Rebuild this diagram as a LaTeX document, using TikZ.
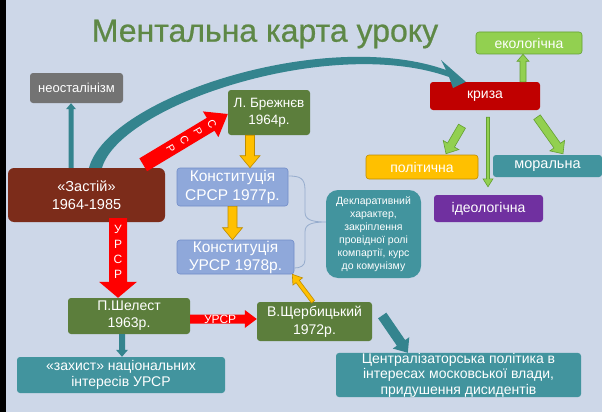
\documentclass[tikz,border=0pt]{standalone}
\usepackage{fontspec}
\setmainfont{Liberation Sans}
\newfontfamily\titlefont[FakeBold=0.7]{Liberation Sans}
\usetikzlibrary{calc,arrows.meta}
\definecolor{bg}{RGB}{205,215,232}
\definecolor{titlegreen}{RGB}{94,136,70}
\definecolor{olivebox}{RGB}{92,126,60}
\definecolor{brownbox}{RGB}{124,44,26}
\definecolor{graybox}{RGB}{115,115,115}
\definecolor{bluebox}{RGB}{143,168,218}
\definecolor{blueline}{RGB}{112,140,200}
\definecolor{tealbox}{RGB}{66,148,158}
\definecolor{tealarrow}{RGB}{52,132,142}
\definecolor{redbox}{RGB}{192,0,0}
\definecolor{lgreen}{RGB}{146,208,80}
\definecolor{dgreen}{RGB}{100,160,50}
\definecolor{yel}{RGB}{255,192,0}
\definecolor{dyel}{RGB}{190,140,0}
\definecolor{purp}{RGB}{112,48,160}
\definecolor{bracecol}{RGB}{150,172,205}
\newcommand\fs[2]{\fontsize{#1}{#2}\selectfont}
% block arrow: style, from, to, half shaft, half head, head length
\newcommand{\blockarr}[6]{%
  \coordinate (ba-h) at ($(#3)!#6!(#2)$);
  \path[#1] ($(#2)!#4!90:(#3)$) -- ($(ba-h)!#4!90:(#3)$) -- ($(ba-h)!#5!90:(#3)$) -- (#3)
    -- ($(ba-h)!#5!-90:(#3)$) -- ($(ba-h)!#4!-90:(#3)$) -- ($(#2)!#4!-90:(#3)$) -- cycle;}
\begin{document}
\begin{tikzpicture}[x=1pt,y=-1pt,
  box/.style={rounded corners=3pt, inner sep=0pt, text=white, align=center, font=\fs{14}{17}},
  redarr/.style={fill=red},
  yelarr/.style={fill=yel, draw=dyel, line width=0.6pt},
  grarr/.style={fill=lgreen, draw=dgreen, line width=0.6pt},
  tarr/.style={fill=tealarrow},
  letter/.style={text=white, inner sep=0pt, font=\fs{11}{13}}]
\useasboundingbox (0,0) rectangle (602,412);
\fill[bg] (0,0) rectangle (602,412);
\fill[black] (0,0) rectangle (6,412);

\node[text=titlegreen, font=\titlefont\fs{32}{36}, inner sep=0pt] (title) at (265,34) {Ментальна карта уроку};

% nodes
\node[box, fill=lgreen, draw=dgreen, line width=0.6pt, minimum width=106pt, minimum height=22pt] (ekol) at (529,43) {екологічна};
\node[box, fill=redbox, minimum width=110pt, minimum height=28pt] (kryza) at (485,96) {криза};
\node[box, fill=yel, draw=dyel, line width=0.6pt, minimum width=112pt, minimum height=24pt] (polit) at (422,167) {політична};
\node[box, fill=tealbox, minimum width=109pt, minimum height=22pt, font=\fs{14.5}{17}] (moral) at (547.5,166) {моральна};
\node[box, fill=purp, minimum width=109pt, minimum height=27pt] (ideol) at (488.5,208.5) {ідеологічна};
\node[box, fill=graybox, minimum width=93pt, minimum height=30pt, font=\fs{13}{16}] (neo) at (76.5,88) {неосталінізм};
\node[box, fill=olivebox, minimum width=82pt, minimum height=45pt, font=\fs{13.5}{17}] (brez) at (269,112.5) {Л. Брежнєв\\1964р.};
\node[box, fill=brownbox, rounded corners=6pt, minimum width=157pt, minimum height=54pt, font=\fs{14.5}{18}] (zast) at (86.5,195) {«Застій»\\1964-1985};
\node[box, fill=bluebox, draw=blueline, line width=0.6pt, minimum width=111pt, minimum height=38pt, font=\fs{15.5}{19}] (ksrsr) at (232.5,187) {Конституція\\СРСР 1977р.};
\node[box, fill=bluebox, draw=blueline, line width=0.6pt, minimum width=117pt, minimum height=34pt, font=\fs{15.5}{18}] (kursr) at (235.5,257) {Конституція\\УРСР 1978р.};
\node[box, fill=tealbox, rounded corners=12pt, minimum width=95pt, minimum height=88pt, font=\fs{10.5}{13}] (dekl) at (373.5,234) {Декларативний\\характер,\\закріплення\\провідної ролі\\компартії, курс\\до комунізму};
\node[box, fill=olivebox, minimum width=122pt, minimum height=36pt, font=\fs{14}{17}] (shel) at (129,316) {П.Шелест\\1963р.};
\node[box, fill=olivebox, minimum width=115pt, minimum height=39pt, font=\fs{14}{18}] (shch) at (314.5,321.5) {В.Щербицький\\1972р.};
\node[box, fill=tealbox, minimum width=208pt, minimum height=36pt, font=\fs{14}{16}] (zahyst) at (121,375) {«захист» національних\\інтересів УРСР};
\node[box, fill=tealbox, minimum width=245pt, minimum height=44pt, font=\fs{14}{15.5}] (centr) at (458.5,375) {Централізаторська політика в\\інтересах московської влади,\\придушення дисидентів};

% curved teal arrow Застій -> криза
\coordinate (ca) at ($(zast.north)+(2.5,0)$);
\coordinate (cb) at ($(zast.north)+(15.5,0)$);
\coordinate (ctip) at ($(kryza.north west)+(36,0)$);
\fill[tealarrow] (ca) .. controls (108,97) and (326,27) .. (446,70)
  -- (441,60) -- (ctip) -- (453,88) -- (449,77)
  .. controls (332,35) and (121,104) .. (cb) -- cycle;

% red arrow СРСР
\coordinate (s1) at ($(zast.north east)+(-22,-3)$);
\coordinate (s2) at ($(brez.west)+(0,1.5)$);
\blockarr{redarr}{s1}{s2}{7.5pt}{15pt}{20pt}
\foreach \d/\l in {80/С,64/Р,48/С,32/Р}
  \node[letter, rotate=-60] at ($(s1)!\d pt!(s2)$) {\l};

% red arrow УРСР vertical
\coordinate (u1) at ($(zast.south)+(31.5,-4)$);
\coordinate (u2) at ($(shel.north)+(-11,0)$);
\blockarr{redarr}{u1}{u2}{9pt}{19pt}{16pt}
\foreach \y/\l in {229/У,244/Р,259/С,274/Р}
  \node[letter, font=\fs{12}{14}] at (118,\y) {\l};

% red arrow УРСР horizontal
\coordinate (h1) at ($(shel.east)+(0,3)$);
\coordinate (h2) at ($(shch.west)+(0,-2.5)$);
\blockarr{redarr}{h1}{h2}{4.5pt}{9pt}{12pt}
\node[letter, font=\fs{12}{14}] at ($(h1)!0.45!(h2)$) {УРСР};

% yellow arrows
\coordinate (y1) at ($(brez.south)+(-19,0)$);
\coordinate (y2) at ($(ksrsr.north)+(17.5,0)$);
\blockarr{yelarr}{y1}{y2}{4.5pt}{10pt}{12pt}
\coordinate (y3) at (ksrsr.south);
\coordinate (y4) at ($(kursr.north)+(-3,0)$);
\blockarr{yelarr}{y3}{y4}{4.5pt}{10pt}{12pt}
\coordinate (y5) at ($(shch.north)+(-1.5,0)$);
\coordinate (y6) at ($(kursr.south east)+(-2,0)$);
\blockarr{yelarr}{y5}{y6}{2pt}{6pt}{9pt}

% teal arrows
\coordinate (t1) at ($(shch.east)+(10,-6)$);
\coordinate (t2) at ($(centr.north west)+(72,0)$);
\blockarr{tarr}{t1}{t2}{5pt}{10pt}{12pt}
\coordinate (t3) at ($(shel.south)+(-7,0)$);
\coordinate (t4) at ($(zahyst.north)+(1,0)$);
\blockarr{tarr}{t3}{t4}{3pt}{6pt}{7pt}
\coordinate (n1) at ($(zast.north)+(-15.5,0)$);
\coordinate (n2) at ($(neo.south)+(-5.5,0)$);
\blockarr{tarr}{n1}{n2}{2.5pt}{5pt}{6pt}

% green arrows from криза
\coordinate (e1) at ($(kryza.north)+(38,0)$);
\coordinate (e2) at ($(ekol.south)+(-6,0)$);
\blockarr{grarr}{e1}{e2}{3pt}{6pt}{7pt}
\coordinate (p1) at ($(kryza.south)+(-23,16)$);
\coordinate (p2) at ($(polit.north)+(24,-1)$);
\blockarr{grarr}{p1}{p2}{4pt}{9pt}{10pt}
\coordinate (i1) at ($(kryza.south)+(3,7)$);
\coordinate (i2) at ($(ideol.north)+(-0.5,-8)$);
\blockarr{grarr}{i1}{i2}{1.5pt}{5pt}{8pt}
\coordinate (m1) at ($(kryza.south)+(52,7)$);
\coordinate (m2) at ($(moral.north)+(15.5,-1)$);
\blockarr{grarr}{m1}{m2}{4pt}{9pt}{10pt}

% brace
\coordinate (b1) at ($(ksrsr.east)+(0,-11)$);
\coordinate (b2) at ($(kursr.east)+(0,11)$);
\coordinate (b3) at ($(dekl.west)+(0,-12)$);
\draw[bracecol, line width=0.8pt] (b1) .. controls (300,176) and (305,178) .. (305,190)
  -- (305,212) .. controls (305,219) and (310,222) .. (b3)
  (b3) .. controls (310,222) and (305,225) .. (305,232)
  -- (305,260) .. controls (305,266) and (300,268) .. (b2);
\end{tikzpicture}
\end{document}
